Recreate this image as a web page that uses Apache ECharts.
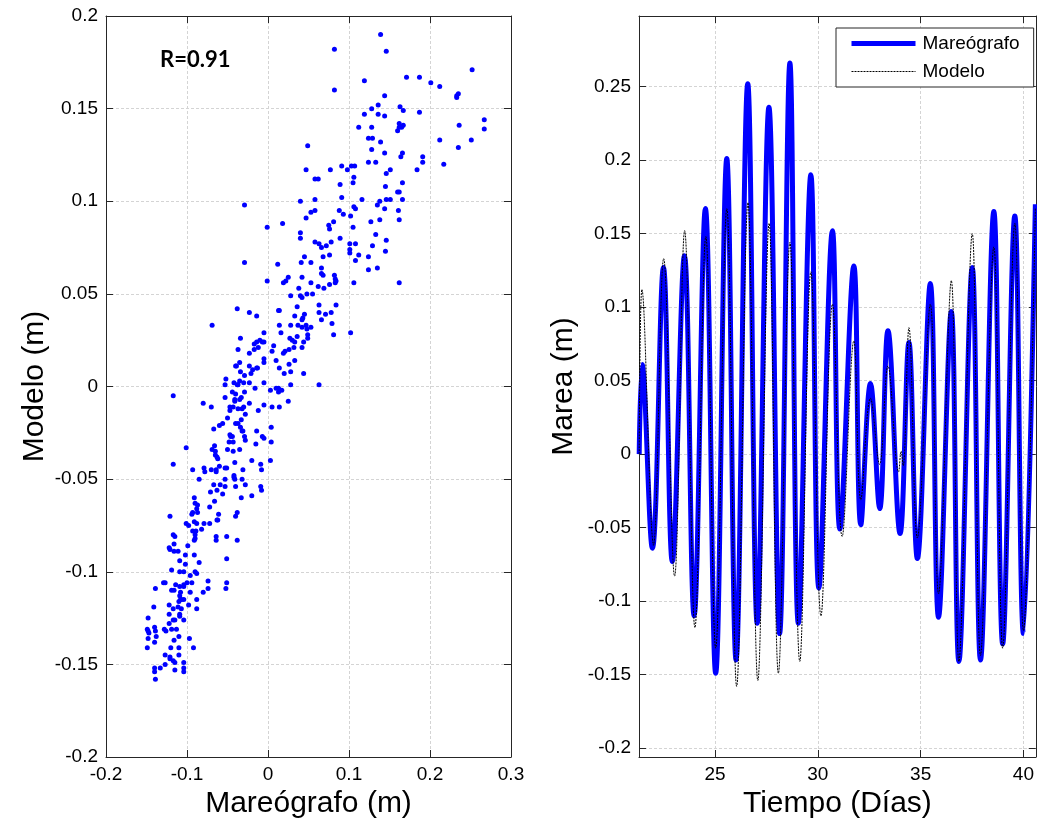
<!DOCTYPE html>
<html>
<head>
<meta charset="utf-8">
<script src="https://cdn.jsdelivr.net/npm/echarts@6/dist/echarts.min.js"></script>
<style>
html,body{margin:0;padding:0;background:#fff;}
#chart{width:1037px;height:827px;}
</style>
</head>
<body>
<div id="chart"></div>
<script>
// ---------- DATA ----------
// Scatter: [Mareógrafo (m), Modelo (m)]
const scatterPoints = [
[0.139,0.190],[0.082,0.182],[0.146,0.181],[0.119,0.165],[0.171,0.167],[0.187,0.167],[0.201,0.164],[0.212,0.162],[0.252,0.171],[0.082,0.160],
[0.144,0.157],[0.233,0.157],[0.235,0.158],[0.233,0.156],[0.128,0.150],[0.136,0.152],[0.119,0.147],[0.136,0.147],[0.144,0.146],[0.163,0.151],
[0.167,0.149],[0.187,0.148],[0.112,0.140],[0.128,0.140],[0.162,0.142],[0.167,0.141],[0.162,0.140],[0.165,0.140],[0.160,0.138],[0.236,0.141],
[0.267,0.144],[0.267,0.139],[0.124,0.134],[0.129,0.134],[0.139,0.132],[0.128,0.128],[0.144,0.126],[0.212,0.133],[0.235,0.129],[0.251,0.133],
[0.049,0.130],[0.166,0.126],[0.164,0.124],[0.191,0.124],[0.191,0.121],[0.124,0.121],[0.133,0.121],[0.184,0.117],[0.217,0.120],[0.047,0.117],
[0.077,0.117],[0.091,0.119],[0.098,0.117],[0.103,0.119],[0.107,0.119],[0.106,0.113],[0.146,0.115],[0.151,0.117],[0.058,0.112],[0.062,0.112],
[0.089,0.109],[0.105,0.110],[0.145,0.108],[0.166,0.110],[0.160,0.105],[0.162,0.105],[0.091,0.102],[0.116,0.101],[0.058,0.101],[0.040,0.100],
[0.138,0.100],[0.146,0.101],[0.151,0.101],[0.166,0.101],[-0.029,0.098],[0.135,0.098],[0.053,0.094],[0.058,0.095],[0.088,0.095],[0.093,0.093],
[0.106,0.097],[0.108,0.096],[0.102,0.092],[0.144,0.096],[0.161,0.095],[0.047,0.091],[0.081,0.089],[0.018,0.088],[-0.001,0.086],[0.075,0.087],
[0.076,0.085],[0.127,0.089],[0.138,0.090],[0.105,0.086],[0.162,0.090],[0.040,0.083],[0.040,0.080],[0.133,0.082],[0.058,0.078],[0.063,0.077],
[0.066,0.075],[0.072,0.076],[0.078,0.078],[0.089,0.080],[0.101,0.077],[0.108,0.077],[0.129,0.076],[0.146,0.079],[0.145,0.073],[0.101,0.074],
[0.101,0.072],[0.112,0.071],[0.108,0.068],[0.124,0.070],[0.045,0.070],[0.068,0.070],[0.076,0.071],[0.041,0.067],[0.053,0.067],[-0.029,0.067],
[0.012,0.066],[0.066,0.064],[0.135,0.064],[0.124,0.063],[0.066,0.061],[0.068,0.060],[0.082,0.060],[0.083,0.058],[0.084,0.057],[0.076,0.055],
[0.083,0.056],[0.042,0.059],[0.019,0.056],[0.022,0.057],[0.025,0.059],[-0.001,0.057],[0.053,0.056],[0.062,0.054],[0.069,0.053],[0.038,0.053],
[0.040,0.049],[0.042,0.048],[0.048,0.050],[0.055,0.050],[0.028,0.049],[0.106,0.056],[0.162,0.056],[0.084,0.044],[0.063,0.044],[0.063,0.040],
[0.071,0.039],[0.078,0.040],[0.066,0.036],[0.036,0.043],[0.014,0.041],[0.013,0.041],[-0.038,0.042],[-0.023,0.040],[-0.014,0.038],[0.033,0.038],
[0.043,0.037],[0.045,0.039],[0.042,0.036],[0.037,0.033],[0.042,0.032],[0.047,0.033],[0.048,0.031],[0.053,0.032],[0.028,0.033],[0.014,0.033],
[0.016,0.029],[-0.069,0.033],[0.079,0.034],[0.081,0.028],[0.102,0.029],[-0.005,0.029],[-0.017,0.023],[-0.014,0.024],[-0.010,0.025],[-0.007,0.024],
[-0.005,0.024],[-0.034,0.026],[-0.037,0.020],[-0.023,0.018],[-0.012,0.021],[-0.017,0.020],[0.007,0.022],[0.005,0.019],[0.010,0.014],[0.019,0.018],
[0.021,0.019],[0.026,0.020],[0.030,0.025],[0.032,0.021],[0.027,0.026],[0.033,0.024],[0.036,0.027],[0.044,0.024],[0.049,0.028],[0.049,0.026],
[0.042,0.021],[0.033,0.014],[0.026,0.012],[0.014,0.010],[-0.005,0.015],[-0.005,0.013],[-0.035,0.013],[-0.039,0.011],[-0.040,0.011],[-0.034,0.008],
[-0.023,0.011],[-0.019,0.009],[-0.014,0.010],[-0.013,0.010],[-0.029,0.006],[-0.021,0.007],[-0.052,0.004],[-0.053,0.001],[-0.042,0.002],[-0.037,0.001],
[-0.035,0.003],[-0.038,0.001],[-0.030,0.002],[-0.023,0.002],[-0.016,-0.001],[-0.005,0.002],[0.013,-0.001],[0.020,0.007],[0.028,0.008],[0.044,0.007],
[0.028,0.001],[0.063,0.001],
[-0.117,-0.005],[0.003,-0.002],[0.010,-0.001],[0.017,-0.002],[0.013,-0.003],[0.025,-0.008],[0.014,-0.011],[0.005,-0.011],[-0.005,-0.010],[-0.053,-0.006],
[-0.044,-0.003],[-0.040,-0.004],[-0.041,-0.007],[-0.041,-0.008],[-0.035,-0.007],[-0.033,-0.006],[-0.029,-0.003],[-0.023,-0.009],[-0.080,-0.009],[-0.070,-0.011],
[-0.047,-0.011],[-0.043,-0.011],[-0.037,-0.012],[-0.032,-0.012],[-0.030,-0.011],[-0.012,-0.013],[-0.047,-0.013],[-0.050,-0.017],[-0.056,-0.020],[-0.060,-0.021],
[-0.067,-0.023],[-0.028,-0.015],[-0.033,-0.018],[-0.040,-0.020],[-0.037,-0.020],[-0.034,-0.022],[-0.032,-0.024],[-0.031,-0.024],[-0.029,-0.027],[-0.028,-0.029],
[-0.047,-0.026],[-0.046,-0.027],[-0.044,-0.027],[-0.048,-0.030],[-0.043,-0.030],[-0.014,-0.024],[0.004,-0.022],[-0.005,-0.028],[-0.007,-0.027],[0.004,-0.030],
[-0.015,-0.031],[-0.050,-0.034],[-0.043,-0.035],[-0.035,-0.034],[-0.066,-0.032],[-0.069,-0.034],[-0.065,-0.035],[-0.065,-0.037],[-0.063,-0.038],[-0.062,-0.039],
[-0.060,-0.043],[-0.064,-0.045],[-0.064,-0.046],[-0.070,-0.045],[-0.079,-0.044],[-0.078,-0.046],[-0.093,-0.045],[-0.041,-0.041],[-0.053,-0.044],[-0.051,-0.044],
[-0.031,-0.045],[-0.020,-0.040],[-0.009,-0.042],[-0.008,-0.045],[0.003,-0.040],[-0.101,-0.033],[-0.117,-0.042],[-0.053,-0.050],[-0.042,-0.048],[-0.042,-0.049],
[-0.041,-0.050],[-0.032,-0.050],[-0.028,-0.053],[-0.040,-0.054],[-0.033,-0.060],[-0.059,-0.053],[-0.067,-0.053],[-0.071,-0.057],[-0.063,-0.056],[-0.056,-0.058],
[-0.053,-0.054],[-0.085,-0.050],[-0.009,-0.054],[-0.008,-0.056],[-0.020,-0.059],[-0.091,-0.060],[-0.090,-0.063],[-0.087,-0.064],[-0.088,-0.066],[-0.094,-0.069],
[-0.093,-0.068],[-0.087,-0.068],[-0.091,-0.073],[-0.088,-0.074],[-0.079,-0.074],[-0.082,-0.077],[-0.072,-0.074],[-0.072,-0.065],[-0.066,-0.062],[-0.063,-0.072],
[-0.061,-0.069],[-0.062,-0.072],[-0.040,-0.070],[-0.038,-0.068],[-0.051,-0.081],[-0.038,-0.083],[-0.051,-0.093],[-0.064,-0.081],[-0.064,-0.083],[-0.101,-0.074],
[-0.098,-0.075],[-0.093,-0.078],[-0.090,-0.080],[-0.089,-0.078],[-0.090,-0.082],[-0.091,-0.083],[-0.099,-0.086],[-0.121,-0.070],[-0.117,-0.080],[-0.115,-0.081],
[-0.116,-0.085],[-0.122,-0.087],[-0.121,-0.088],[-0.116,-0.089],[-0.111,-0.089],[-0.102,-0.091],[-0.091,-0.091],[-0.102,-0.096],[-0.109,-0.094],[-0.085,-0.095],
[-0.119,-0.099],[-0.109,-0.100],[-0.104,-0.100],[-0.096,-0.102],[-0.090,-0.100],[-0.088,-0.101],[-0.129,-0.106],[-0.127,-0.106],[-0.114,-0.107],[-0.109,-0.108],
[-0.104,-0.107],[-0.100,-0.106],[-0.094,-0.106],[-0.104,-0.108],[-0.119,-0.110],[-0.116,-0.110],[-0.108,-0.111],[-0.096,-0.111],[-0.074,-0.105],[-0.051,-0.106],
[-0.052,-0.109],[-0.080,-0.111],[-0.074,-0.109],[-0.139,-0.109],[-0.141,-0.119],[-0.109,-0.113],[-0.108,-0.115],[-0.110,-0.116],[-0.107,-0.115],[-0.104,-0.115],
[-0.088,-0.115],[-0.098,-0.118],[-0.117,-0.120],[-0.122,-0.118],[-0.111,-0.119],[-0.107,-0.120],[-0.109,-0.123],[-0.109,-0.124],[-0.088,-0.120],[-0.122,-0.123],
[-0.104,-0.126],[-0.117,-0.126],[-0.115,-0.126],[-0.148,-0.125],[-0.149,-0.131],[-0.148,-0.132],[-0.147,-0.133],[-0.140,-0.130],[-0.139,-0.132],[-0.138,-0.135],
[-0.140,-0.138],[-0.148,-0.136],[-0.149,-0.141],[-0.128,-0.131],[-0.126,-0.132],[-0.122,-0.128],[-0.119,-0.131],[-0.113,-0.131],[-0.110,-0.135],[-0.116,-0.137],
[-0.097,-0.136],[-0.092,-0.141],[-0.110,-0.141],[-0.120,-0.141],[-0.127,-0.145],[-0.121,-0.146],[-0.121,-0.147],[-0.117,-0.148],[-0.115,-0.149],[-0.110,-0.145],
[-0.104,-0.149],[-0.104,-0.152],[-0.104,-0.154],[-0.115,-0.153],[-0.127,-0.150],[-0.133,-0.152],[-0.140,-0.152],[-0.140,-0.154],[-0.139,-0.158]
];

// Time series (días, m)
const mareografoT = [21.31,21.45,21.95,22.49,22.92,23.51,23.98,24.53,25.03,25.57,26.02,26.59,27.05,27.62,28.14,28.64,29.05,29.66,30.05,30.71,31.07,31.75,32.09,32.56,33.01,33.41,34.0,34.43,34.84,35.47,35.87,36.49,36.86,37.51,37.91,38.56,38.99,39.58,40.0,40.58];
const mareografoV = [0.0,0.061,-0.064,0.127,-0.073,0.135,-0.11,0.167,-0.149,0.201,-0.14,0.252,-0.115,0.236,-0.122,0.266,-0.115,0.19,-0.091,0.152,-0.051,0.128,-0.048,0.048,-0.037,0.084,-0.054,0.076,-0.071,0.116,-0.111,0.097,-0.141,0.127,-0.14,0.165,-0.129,0.162,-0.122,0.17];

const modeloT = [21.31,21.44,21.9,22.0,22.5,23.03,23.52,24.02,24.55,25.03,25.57,26.05,26.6,27.08,27.63,28.08,28.64,29.12,29.66,30.15,30.71,31.18,31.75,32.09,32.56,33.0,33.41,33.93,34.05,34.15,34.43,34.84,35.47,35.87,36.49,36.86,37.51,37.91,38.56,38.99,39.58,40.0,40.58];
const modeloV = [0.0,0.112,-0.047,-0.062,0.133,-0.083,0.152,-0.118,0.148,-0.132,0.167,-0.158,0.171,-0.154,0.157,-0.149,0.144,-0.141,0.124,-0.11,0.102,-0.056,0.077,-0.031,0.038,-0.007,0.06,-0.012,0.002,-0.008,0.086,-0.057,0.102,-0.095,0.118,-0.141,0.15,-0.137,0.141,-0.132,0.157,-0.12,0.167];

const leftXTicks = [-0.2,-0.1,0,0.1,0.2,0.3];
const leftYTicks = [-0.2,-0.15,-0.1,-0.05,0,0.05,0.1,0.15,0.2];
const rightXTicks = [25,30,35,40];
const rightYTicks = [-0.2,-0.15,-0.1,-0.05,0,0.05,0.1,0.15,0.2,0.25];

// ---------- CHART ----------
const FONT = "'Liberation Sans', Arial, sans-serif";
const AX = '#262626';
const GRIDC = '#d4d4d4';
const fmt = v => String(Math.round(v * 1000) / 1000);

function boxAxis(gridIndex, pos, min, max, ticks, opts) {
  const isMain = pos === 'bottom' || pos === 'left';
  return Object.assign({
    type: 'value', gridIndex: gridIndex, position: pos, min: min, max: max,
    axisLine: { show: true, onZero: false, lineStyle: { color: AX, width: 1 } },
    axisTick: { show: true, inside: true, length: 7, customValues: ticks, lineStyle: { color: AX, width: 1 } },
    axisLabel: { show: isMain, customValues: ticks, formatter: fmt, color: '#000', fontSize: 19, fontFamily: FONT, margin: 8,
                 showMinLabel: true, showMaxLabel: true },
    splitLine: { show: isMain, lineStyle: { color: GRIDC, type: [3, 2], width: 1 } },
    nameTextStyle: { color: '#000', fontSize: 30, fontFamily: FONT }
  }, opts || {});
}

const chart = echarts.init(document.getElementById('chart'), null, { renderer: 'canvas' });
chart.setOption({
  animation: false,
  backgroundColor: '#fff',
  textStyle: { fontFamily: FONT },
  title: { text: 'R=0.91', left: 160, top: 49, padding: 0,
           textStyle: { fontFamily: 'Lato, sans-serif', fontWeight: 'bold', fontSize: 22, color: '#000' } },
  legend: {
    left: 836, top: 28, orient: 'vertical',
    backgroundColor: '#fff', borderColor: AX, borderWidth: 1, borderRadius: 0,
    padding: [6, 14, 6, 13], itemWidth: 64, itemHeight: 14, itemGap: 9,
    itemStyle: { opacity: 0 },
    lineStyle: { width: 'inherit' },
    textStyle: { fontSize: 19, fontFamily: FONT, color: '#000', padding: [0, 0, 0, 2] },
    data: ['Mareógrafo', 'Modelo']
  },
  grid: [
    { left: 106, top: 16, width: 405, height: 741 },
    { left: 639, top: 16, width: 397, height: 741 }
  ],
  xAxis: [
    boxAxis(0, 'bottom', -0.2, 0.3, leftXTicks, { name: 'Mareógrafo (m)', nameLocation: 'middle', nameGap: 30 }),
    boxAxis(0, 'top', -0.2, 0.3, leftXTicks),
    boxAxis(1, 'bottom', 21.3, 40.6, rightXTicks, { name: 'Tiempo (Días)', nameLocation: 'middle', nameGap: 30 }),
    boxAxis(1, 'top', 21.3, 40.6, rightXTicks)
  ],
  yAxis: [
    boxAxis(0, 'left', -0.2, 0.2, leftYTicks, { name: 'Modelo (m)', nameLocation: 'middle', nameGap: 56 }),
    boxAxis(0, 'right', -0.2, 0.2, leftYTicks),
    boxAxis(1, 'left', -0.206, 0.298, rightYTicks, { name: 'Marea (m)', nameLocation: 'middle', nameGap: 60 }),
    boxAxis(1, 'right', -0.206, 0.298, rightYTicks)
  ],
  series: [
    {
      type: 'scatter', xAxisIndex: 0, yAxisIndex: 0,
      data: scatterPoints, symbolSize: 5,
      itemStyle: { color: '#0000ff', opacity: 1 }
    },
    {
      name: 'Mareógrafo', type: 'line', xAxisIndex: 2, yAxisIndex: 2,
      data: mareografoT.map((t, i) => [t, mareografoV[i]]),
      showSymbol: false, symbol: 'none', smooth: 0.4, clip: true,
      lineStyle: { color: '#0000ff', width: 5 }, itemStyle: { color: '#0000ff' }
    },
    {
      name: 'Modelo', type: 'line', xAxisIndex: 2, yAxisIndex: 2,
      data: modeloT.map((t, i) => [t, modeloV[i]]),
      showSymbol: false, symbol: 'none', smooth: 0.4, clip: true,
      lineStyle: { color: '#000', width: 1, type: [2, 1] }, itemStyle: { color: '#000' }
    }
  ]
});
</script>
</body>
</html>
